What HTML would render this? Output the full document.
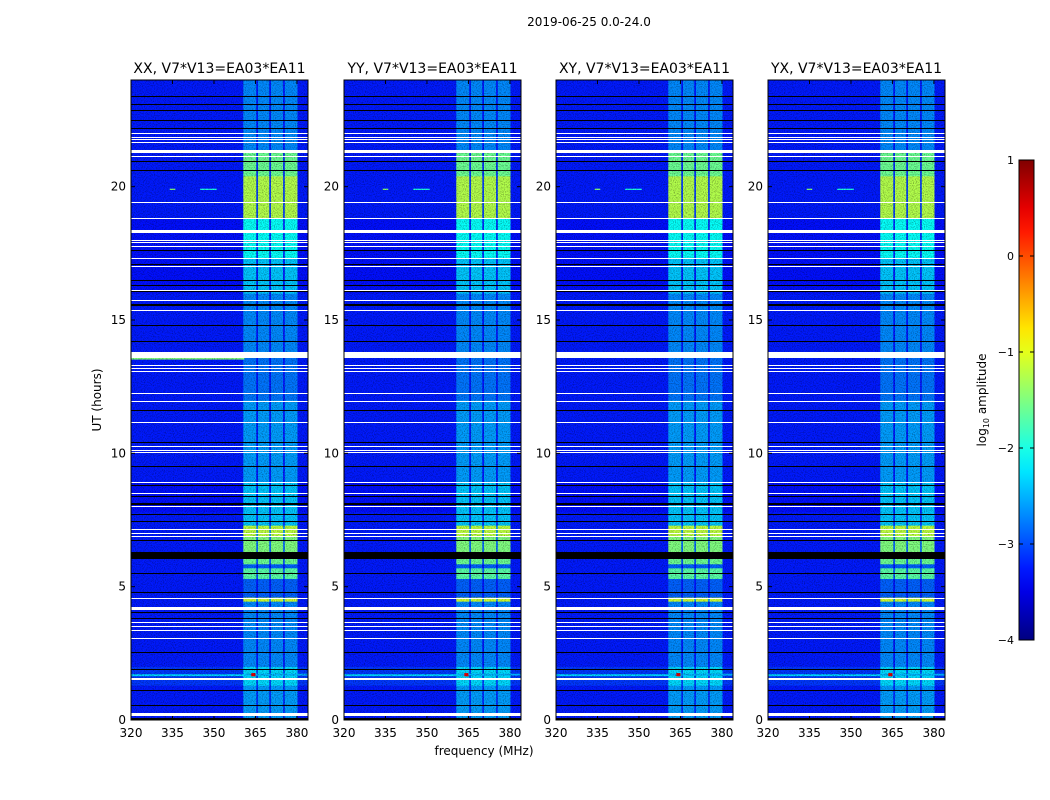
<!DOCTYPE html>
<html><head><meta charset="utf-8"><style>
body{margin:0;background:#fff;}
svg{display:block;font-family:"DejaVu Sans","Liberation Sans",sans-serif;}
</style></head><body>
<svg id="fig" width="1050" height="800" viewBox="0 0 1050 800">
<defs>
<linearGradient id="jetgrad" x1="0" y1="1" x2="0" y2="0"></linearGradient>
<filter id="noise" x="0" y="0" width="100%" height="100%">
<feTurbulence type="fractalNoise" baseFrequency="0.9" numOctaves="1" seed="3"/>
<feColorMatrix type="matrix" values="0 0 0 0 0  0 0 0 0 0  0 0 0 0 0  0 0 0 -2.2 1.25"/>
</filter>
</defs>
<text x="589" y="26" font-size="12" text-anchor="middle">2019-06-25 0.0-24.0</text>
<text x="484" y="755" font-size="12" text-anchor="middle">frequency (MHz)</text>
<text transform="translate(101,400) rotate(-90)" font-size="12" text-anchor="middle">UT (hours)</text>
<g id="panels"></g>
<g id="cbar"></g>
<text transform="translate(986,400) rotate(-90)" font-size="12" text-anchor="middle">log<tspan font-size="8" dy="3">10</tspan><tspan dy="-3"> amplitude</tspan></text>
</svg>
<script>
const NS='http://www.w3.org/2000/svg';
const panelTitles=['XX, V7*V13=EA03*EA11','YY, V7*V13=EA03*EA11','XY, V7*V13=EA03*EA11','YX, V7*V13=EA03*EA11'];
const panelLeft=[131,344,556,768];
const xTicks=[320,335,350,365,380];
const yTicks=[0,5,10,15,20];
const cbTicks=[1,0,-1,-2,-3,-4];
// frequency columns (MHz) and kind
const colStart=[320,360.6,365.3,365.9,370.0,370.6,375.0,375.6,380.2];
const colEnd  =[360.6,365.3,365.9,370.0,370.6,375.0,375.6,380.2,384];
const colKind =['bg','rfi','gap','rfi','gap','rfi','gap','rfi','bg'];
// time segments (hours) with background / RFI / gap log amplitude
const segStart=[0,1.3,2.0,4.45,4.6,5.3,5.7,5.85,6.3,6.9,7.3,7.8,8.9,12.0,13.6,16.0,17.3,18.8,20.4,21.3];
const segEnd  =[1.3,2.0,4.45,4.6,5.3,5.7,5.85,6.3,6.9,7.3,7.8,8.9,12.0,13.6,16.0,17.3,18.8,20.4,21.3,24];
const segBg   =[-3.25,-3.1,-3.25,-3.25,-3.25,-3.25,-3.25,-3.25,-3.25,-3.25,-3.25,-3.3,-3.25,-3.25,-3.25,-3.3,-3.3,-3.25,-3.25,-3.25];
const segRfi  =[-2.6,-2.3,-2.7,-1.1,-2.9,-1.7,-2.9,-1.6,-1.5,-1.2,-2.4,-2.4,-2.6,-2.8,-2.7,-2.4,-2.1,-1.25,-1.6,-2.7];
const segGap  =[-3.2,-3.1,-3.3,-2.6,-3.3,-3.0,-3.3,-3.0,-2.9,-2.7,-3.2,-3.3,-3.3,-3.3,-3.3,-3.3,-3.2,-3.1,-3.2,-3.3];
// flagged rows (white): hour center, thickness
const flagHour=[0.21,1.54,3.04,3.37,3.52,3.67,4.2,4.54,6.9,7.01,7.16,7.99,8.51,8.92,10.05,10.12,10.27,11.17,11.96,12.26,13.05,13.2,13.31,13.7,15.37,15.75,16.12,16.99,17.32,17.77,17.89,18.0,18.32,18.82,19.39,21.15,21.32,21.67,21.78,21.86,22.0];
const flagThick=[0.12,0.06,0.05,0.05,0.05,0.05,0.1,0.05,0.05,0.05,0.05,0.05,0.05,0.05,0.05,0.05,0.05,0.05,0.05,0.05,0.05,0.05,0.05,0.22,0.05,0.05,0.05,0.05,0.05,0.05,0.05,0.05,0.12,0.05,0.05,0.05,0.12,0.05,0.05,0.05,0.05];
// dead rows (black)
const blackHour=[0.04,0.55,1.1,1.9,2.55,3.8,4.05,4.8,5.5,6.18,6.75,7.45,7.7,8.1,8.4,8.8,9.5,10.4,11.6,14.2,14.8,15.55,16.05,16.3,16.5,17.1,17.6,20.6,20.95,22.2,22.5,22.85,23.1,23.4];
const blackThick=[0.08,0.04,0.04,0.04,0.04,0.04,0.04,0.04,0.04,0.25,0.04,0.04,0.04,0.06,0.04,0.04,0.04,0.04,0.04,0.04,0.04,0.06,0.05,0.05,0.05,0.04,0.04,0.04,0.04,0.05,0.05,0.04,0.04,0.04];
// narrow features: hour, fStart, fEnd, level, thickness
const featHour=[13.55,1.68,1.7,1.7,19.9,19.9];
const featF0=[320,320,361,363.5,334,345];
const featF1=[361,361,384,365,336,351];
const featLev=[-1.5,-2.3,-2.5,0.5,-1.5,-2.0];
const featThick=[0.07,0.07,0.07,0.12,0.05,0.05];

function jet(v){const t=Math.max(0,Math.min(1,(v+4)/5));const c=x=>Math.round(255*Math.max(0,Math.min(1,1.5-Math.abs(4*t-x))));return `rgb(${c(3)},${c(2)},${c(1)})`;}
function mk(tag,attrs,parent){const e=document.createElementNS(NS,tag);for(const k in attrs)e.setAttribute(k,attrs[k]);parent.appendChild(e);return e;}
const TOP=80,BOT=720,W=177,F0=320,F1=384,T1=24;
const panels=document.getElementById('panels');
panelTitles.forEach((title,p)=>{
  const L=panelLeft[p];
  const xs=f=>L+(f-F0)/(F1-F0)*W;
  const ys=h=>BOT-h/T1*(BOT-TOP);
  const g=mk('g',{},panels);
  
  
  segStart.forEach((s,i)=>{
    colStart.forEach((c,j)=>{
      const v=colKind[j]==='rfi'?segRfi[i]:(colKind[j]==='gap'?segGap[i]:segBg[i]);
      const r=mk('rect',{x:xs(c),y:ys(segEnd[i]),width:xs(colEnd[j])-xs(c)+0.3,height:ys(segStart[i])-ys(segEnd[i])+0.3,fill:jet(v)},g);
      
      
    });
  });
  featHour.forEach((h,i)=>{
    if(i===0&&p!==0)return;
    const r=mk('rect',{x:xs(featF0[i]),y:ys(h+featThick[i]/2),width:xs(featF1[i])-xs(featF0[i]),height:Math.max(1,featThick[i]/T1*(BOT-TOP)),fill:jet(featLev[i])},g);
    
    
  });
  const nz=mk('rect',{x:L,y:TOP,width:W,height:BOT-TOP,fill:'#000',filter:'url(#noise)',opacity:0.45},g);
  
  
  blackHour.forEach((h,i)=>{
    const hh=Math.max(1,Math.round(blackThick[i]/T1*(BOT-TOP)));
    const r=mk('rect',{x:L,y:Math.round(ys(h)-hh/2),width:W,height:hh,fill:'#000'},g);
    
    
  });
  flagHour.forEach((h,i)=>{
    const hh=Math.max(1,Math.round(flagThick[i]/T1*(BOT-TOP)));
    const r=mk('rect',{x:L,y:Math.round(ys(h)-hh/2),width:W,height:hh,fill:'#fff'},g);
    
    
  });
  const fr=mk('rect',{x:L,y:TOP,width:W,height:BOT-TOP,fill:'none',stroke:'#000','stroke-width':1},g);
  
  
  const tt=mk('text',{x:L+W/2,y:TOP-7,'font-size':14,'text-anchor':'middle'},g);
  tt.textContent=title;
  
  
  xTicks.forEach(t=>{
    const x=xs(t);
    mk('line',{x1:x,y1:BOT,x2:x,y2:BOT-4,stroke:'#000'},g);
    mk('line',{x1:x,y1:TOP,x2:x,y2:TOP+4,stroke:'#000'},g);
    const lb=mk('text',{x:x,y:BOT+17,'font-size':12,'text-anchor':'middle'},g);
    lb.textContent=t;
    
    
  });
  yTicks.forEach(t=>{
    const y=ys(t);
    mk('line',{x1:L,y1:y,x2:L+4,y2:y,stroke:'#000'},g);
    mk('line',{x1:L+W,y1:y,x2:L+W-4,y2:y,stroke:'#000'},g);
    const lb=mk('text',{x:L-5,y:y+4,'font-size':12,'text-anchor':'end'},g);
    lb.textContent=t;
    
    
  });
});
// colorbar
const grad=document.getElementById('jetgrad');
for(let k=0;k<=20;k++){const v=-4+5*k/20;mk('stop',{offset:(k/20),'stop-color':jet(v)},grad);}
const cb=document.getElementById('cbar');
const CBT=160,CBB=640,CBL=1019,CBW=15;
const cys=v=>CBB-(v+4)/5*(CBB-CBT);
mk('rect',{x:CBL,y:CBT,width:CBW,height:CBB-CBT,fill:'url(#jetgrad)',stroke:'#000'},cb);
cbTicks.forEach(t=>{
  const y=cys(t);
  mk('line',{x1:CBL,y1:y,x2:CBL+4,y2:y,stroke:'#000'},cb);
  mk('line',{x1:CBL+CBW,y1:y,x2:CBL+CBW-4,y2:y,stroke:'#000'},cb);
  const lb=mk('text',{x:CBL-5,y:y+4,'font-size':11,'text-anchor':'end'},cb);
  lb.textContent=t<0?'\u2212'+(-t):String(t);
  
  
});
</script>
</body></html>
